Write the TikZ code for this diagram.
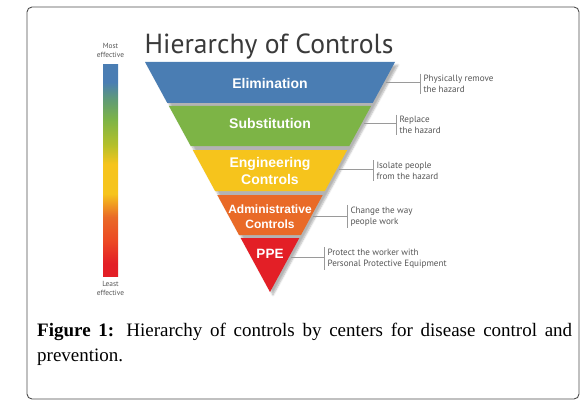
\documentclass[tikz,border=0pt]{standalone}
\usepackage{fontspec}
\setmainfont{Liberation Serif}
\newfontfamily\lblfont{Liberation Sans}
\newfontfamily\hfont{PT Sans}
\usetikzlibrary{shadows.blur}
\definecolor{cBlue}{HTML}{4A7DB3}
\definecolor{cGreen}{HTML}{7DB446}
\definecolor{cYellow}{HTML}{F6C41C}
\definecolor{cOrange}{HTML}{E96A27}
\definecolor{cRed}{HTML}{E31F26}
\definecolor{cRedOr}{HTML}{EC4A24}
\definecolor{cTeal}{HTML}{5F9A78}
\definecolor{cLime}{HTML}{B5C02A}
\definecolor{cText}{HTML}{555555}
\definecolor{cTitle}{HTML}{3A3A3A}
\definecolor{cLine}{HTML}{9A9A9A}
\pgfdeclareverticalshading{effbar}{100bp}{color(0bp)=(cRed); color(25bp)=(cRed); color(28bp)=(cRed); color(33.5bp)=(cRedOr); color(39bp)=(cOrange); color(44.5bp)=(cYellow); color(51.5bp)=(cYellow); color(56bp)=(cLime); color(62bp)=(cGreen); color(67bp)=(cTeal); color(71bp)=(cBlue); color(75bp)=(cBlue); color(100bp)=(cBlue)}
\tikzset{
  frame/.style={draw=black!70, line width=0.9pt, rounded corners=5pt},
  bandlabel/.style={text=white, font=\lblfont\bfseries\fontsize{14}{17}\selectfont, align=center, inner sep=0pt},
  desc/.style={anchor=west, align=left, text=cText, font=\hfont\fontsize{9.1}{10.8}\selectfont, inner xsep=3.3pt, inner ysep=1.6pt},
  conn/.style={draw=cLine, line width=0.8pt},
  effl/.style={align=center, text=cText, font=\hfont\fontsize{7.4}{9}\selectfont, inner sep=0pt},
}
\begin{document}
\begin{tikzpicture}[x=1pt,y=-1pt]
\useasboundingbox (0,0) rectangle (588,409);
\draw[frame] (27,7) rectangle (579,399);
% title
\node[anchor=base, inner sep=0pt, text=cTitle, font=\hfont\fontsize{27.6}{30}\selectfont] (title) at (269,54) {Hierarchy of Controls};
% effectiveness bar
\shade[shading=effbar] (103,65) rectangle (118,276);
\node[effl] (most) at (110.5,50.5) {Most\\effective};
\node[effl] (least) at (110.5,288.5) {Least\\effective};
% shadow
\path[blur shadow={shadow xshift=3pt, shadow yshift=-3pt, shadow opacity=30, shadow blur steps=6}] (145,62) -- (395,62) -- (270,292) -- cycle;
% bands
\fill[cBlue]   (145,62) -- (395,62) -- (372.7,103) -- (167.3,103) -- cycle;
\fill[cGreen]  (168.9,106) -- (371.1,106) -- (349.3,146) -- (190.7,146) -- cycle;
\fill[cYellow] (192.8,150) -- (347.2,150) -- (324.9,191) -- (215.1,191) -- cycle;
\fill[cOrange] (217.3,195) -- (322.7,195) -- (301,235) -- (239,235) -- cycle;
\fill[cRed]    (240.7,238) -- (299.3,238) -- (270,292) -- cycle;
% band labels
\node[bandlabel] (elim) at (270,83) {Elimination};
\node[bandlabel] (subs) at (270,123.5) {Substitution};
\node[bandlabel] (eng) at (270,170.5) {Engineering\\Controls};
\node[bandlabel, font=\lblfont\bfseries\fontsize{12}{15.5}\selectfont] (adm) at (270,216.5) {Administrative\\Controls};
\node[bandlabel, font=\lblfont\bfseries\fontsize{13.5}{16}\selectfont] (ppe) at (270,254) {PPE};
% edge points
\coordinate (e1) at (386,82);
\coordinate (e2) at (364,123);
\coordinate (e3) at (339,169);
\coordinate (e4) at (313,216.5);
\coordinate (e5) at (291,257.5);
% descriptions
\node[desc] (d1) at (420,84) {Physically remove\\the hazard};
\node[desc] (d2) at (396,125) {Replace\\the hazard};
\node[desc] (d3) at (373,170.7) {Isolate people\\from the hazard};
\node[desc] (d4) at (347,216.3) {Change the way\\people work};
\node[desc] (d5) at (324,258.7) {Protect the worker with\\Personal Protective Equipment};
\foreach \i in {1,...,5}{
  \draw[conn] (e\i) -- (e\i -| d\i.west);
  \draw[conn] (d\i.north west) -- (d\i.south west);
}
% caption
\node[anchor=north west, inner sep=0pt, text width=535pt, align=justify, font=\fontsize{19}{25}\selectfont] (cap) at (37,323)
  {\hyphenpenalty=10000 \textbf{Figure 1:} Hierarchy of controls by centers for disease control and\linebreak prevention.};
\end{tikzpicture}
\end{document}
